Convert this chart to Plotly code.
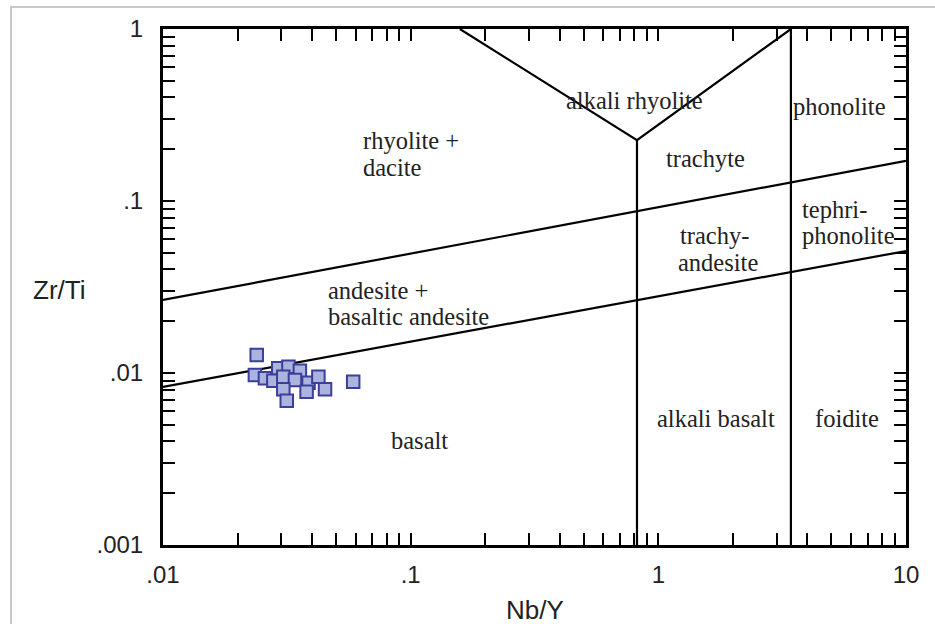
import plotly.graph_objects as go

# Sample data (Nb/Y, Zr/Ti)
nb_y = [0.0239, 0.0235, 0.0292, 0.0321, 0.0357, 0.0258, 0.0279, 0.0306,
        0.0341, 0.0387, 0.0424, 0.0451, 0.0306, 0.0380, 0.0316, 0.0586]
zr_ti = [0.01273, 0.00973, 0.01064, 0.01088, 0.01031, 0.00931, 0.00902, 0.00952,
         0.00910, 0.00879, 0.00952, 0.00804, 0.00804, 0.00778, 0.00690, 0.00890]

# Field boundaries
upper_x = [0.01, 10]
upper_y = [0.0266, 0.171]
lower_x = [0.01, 10]
lower_y = [0.0083, 0.0512]
v_x = [0.158, 0.82, 3.43]
v_y = [1.0, 0.226, 1.0]
vert1_x = [0.82, 0.82]
vert1_y = [0.001, 0.226]
vert2_x = [3.43, 3.43]
vert2_y = [0.001, 1.0]

# Field labels: text, log10(x), log10(y), anchor
labels = [
    ("alkali rhyolite", -0.098, -0.413, "center"),
    ("rhyolite +", -1.201, -0.651, "left"),
    ("dacite", -1.201, -0.808, "left"),
    ("trachyte", 0.192, -0.750, "center"),
    ("phonolite", 0.733, -0.448, "center"),
    ("tephri-", 0.572, -1.047, "left"),
    ("phonolite", 0.572, -1.198, "left"),
    ("trachy-", 0.079, -1.198, "left"),
    ("andesite", 0.071, -1.355, "left"),
    ("andesite +", -1.342, -1.523, "left"),
    ("basaltic andesite", -1.342, -1.674, "left"),
    ("basalt", -0.966, -2.395, "center"),
    ("alkali basalt", 0.233, -2.262, "center"),
    ("foidite", 0.761, -2.262, "center"),
]

x_major = [0.01, 0.1, 1, 10]
x_major_text = [".01", ".1", "1", "10"]
y_major = [0.001, 0.01, 0.1, 1]
y_major_text = [".001", ".01", ".1", "1"]
minor_x = [m * 10 ** e for e in (-2, -1, 0) for m in range(2, 10)]
minor_y = [m * 10 ** e for e in (-3, -2, -1) for m in range(2, 10)]

fig = go.Figure()
line_style = dict(color="black", width=2.2)
for xs, ys in [(upper_x, upper_y), (lower_x, lower_y), (v_x, v_y),
               (vert1_x, vert1_y), (vert2_x, vert2_y)]:
    fig.add_trace(go.Scatter(x=xs, y=ys, mode="lines", line=line_style,
                             showlegend=False, hoverinfo="skip"))

fig.add_trace(go.Scatter(
    x=nb_y, y=zr_ti, mode="markers", showlegend=False,
    marker=dict(symbol="square", size=12.5, color="#abb3df",
                line=dict(color="#3b3f99", width=2))))

for text, x, y, anchor in labels:
    fig.add_annotation(x=x, y=y, xref="x", yref="y", text=text, showarrow=False,
                       xanchor=anchor, yanchor="middle",
                       font=dict(family="Liberation Serif", size=24.5, color="#222"))

axis_common = dict(
    type="log", showgrid=False, zeroline=False,
    showline=True, linecolor="black", linewidth=3, mirror="allticks",
    ticks="inside", ticklen=12, tickwidth=2, tickcolor="black",
    tickfont=dict(family="Liberation Sans", size=24, color="#222"),
)
fig.update_xaxes(**axis_common, range=[-2, 1], tickvals=x_major, ticktext=x_major_text,
                 minor=dict(tickvals=minor_x, ticks="inside", ticklen=12, tickwidth=2,
                            tickcolor="black", showgrid=False),
                 ticklabelstandoff=6)
fig.update_yaxes(**axis_common, range=[-3, 0], tickvals=y_major, ticktext=y_major_text,
                 minor=dict(tickvals=minor_y, ticks="inside", ticklen=12, tickwidth=2,
                            tickcolor="black", showgrid=False),
                 ticklabelstandoff=12)

fig.add_annotation(xref="paper", yref="paper", x=-0.14, y=0.494, text="Zr/Ti",
                   showarrow=False, xanchor="center", yanchor="middle",
                   font=dict(family="Liberation Sans", size=26, color="#222"))
fig.add_annotation(xref="paper", yref="paper", x=0.5, y=-0.125, text="Nb/Y",
                   showarrow=False, xanchor="center", yanchor="middle",
                   font=dict(family="Liberation Sans", size=26, color="#222"))

# Light outer frame (top and left edges visible)
fig.add_shape(type="rect", xref="paper", yref="paper",
              x0=-0.2046, x1=1.2, y0=-0.3, y1=1.0426,
              line=dict(color="#c8c8c8", width=2), layer="below")

fig.update_layout(
    width=935, height=624,
    margin=dict(l=163, r=29, t=29, b=79),
    paper_bgcolor="white", plot_bgcolor="white",
)
fig.write_html("out.html")
